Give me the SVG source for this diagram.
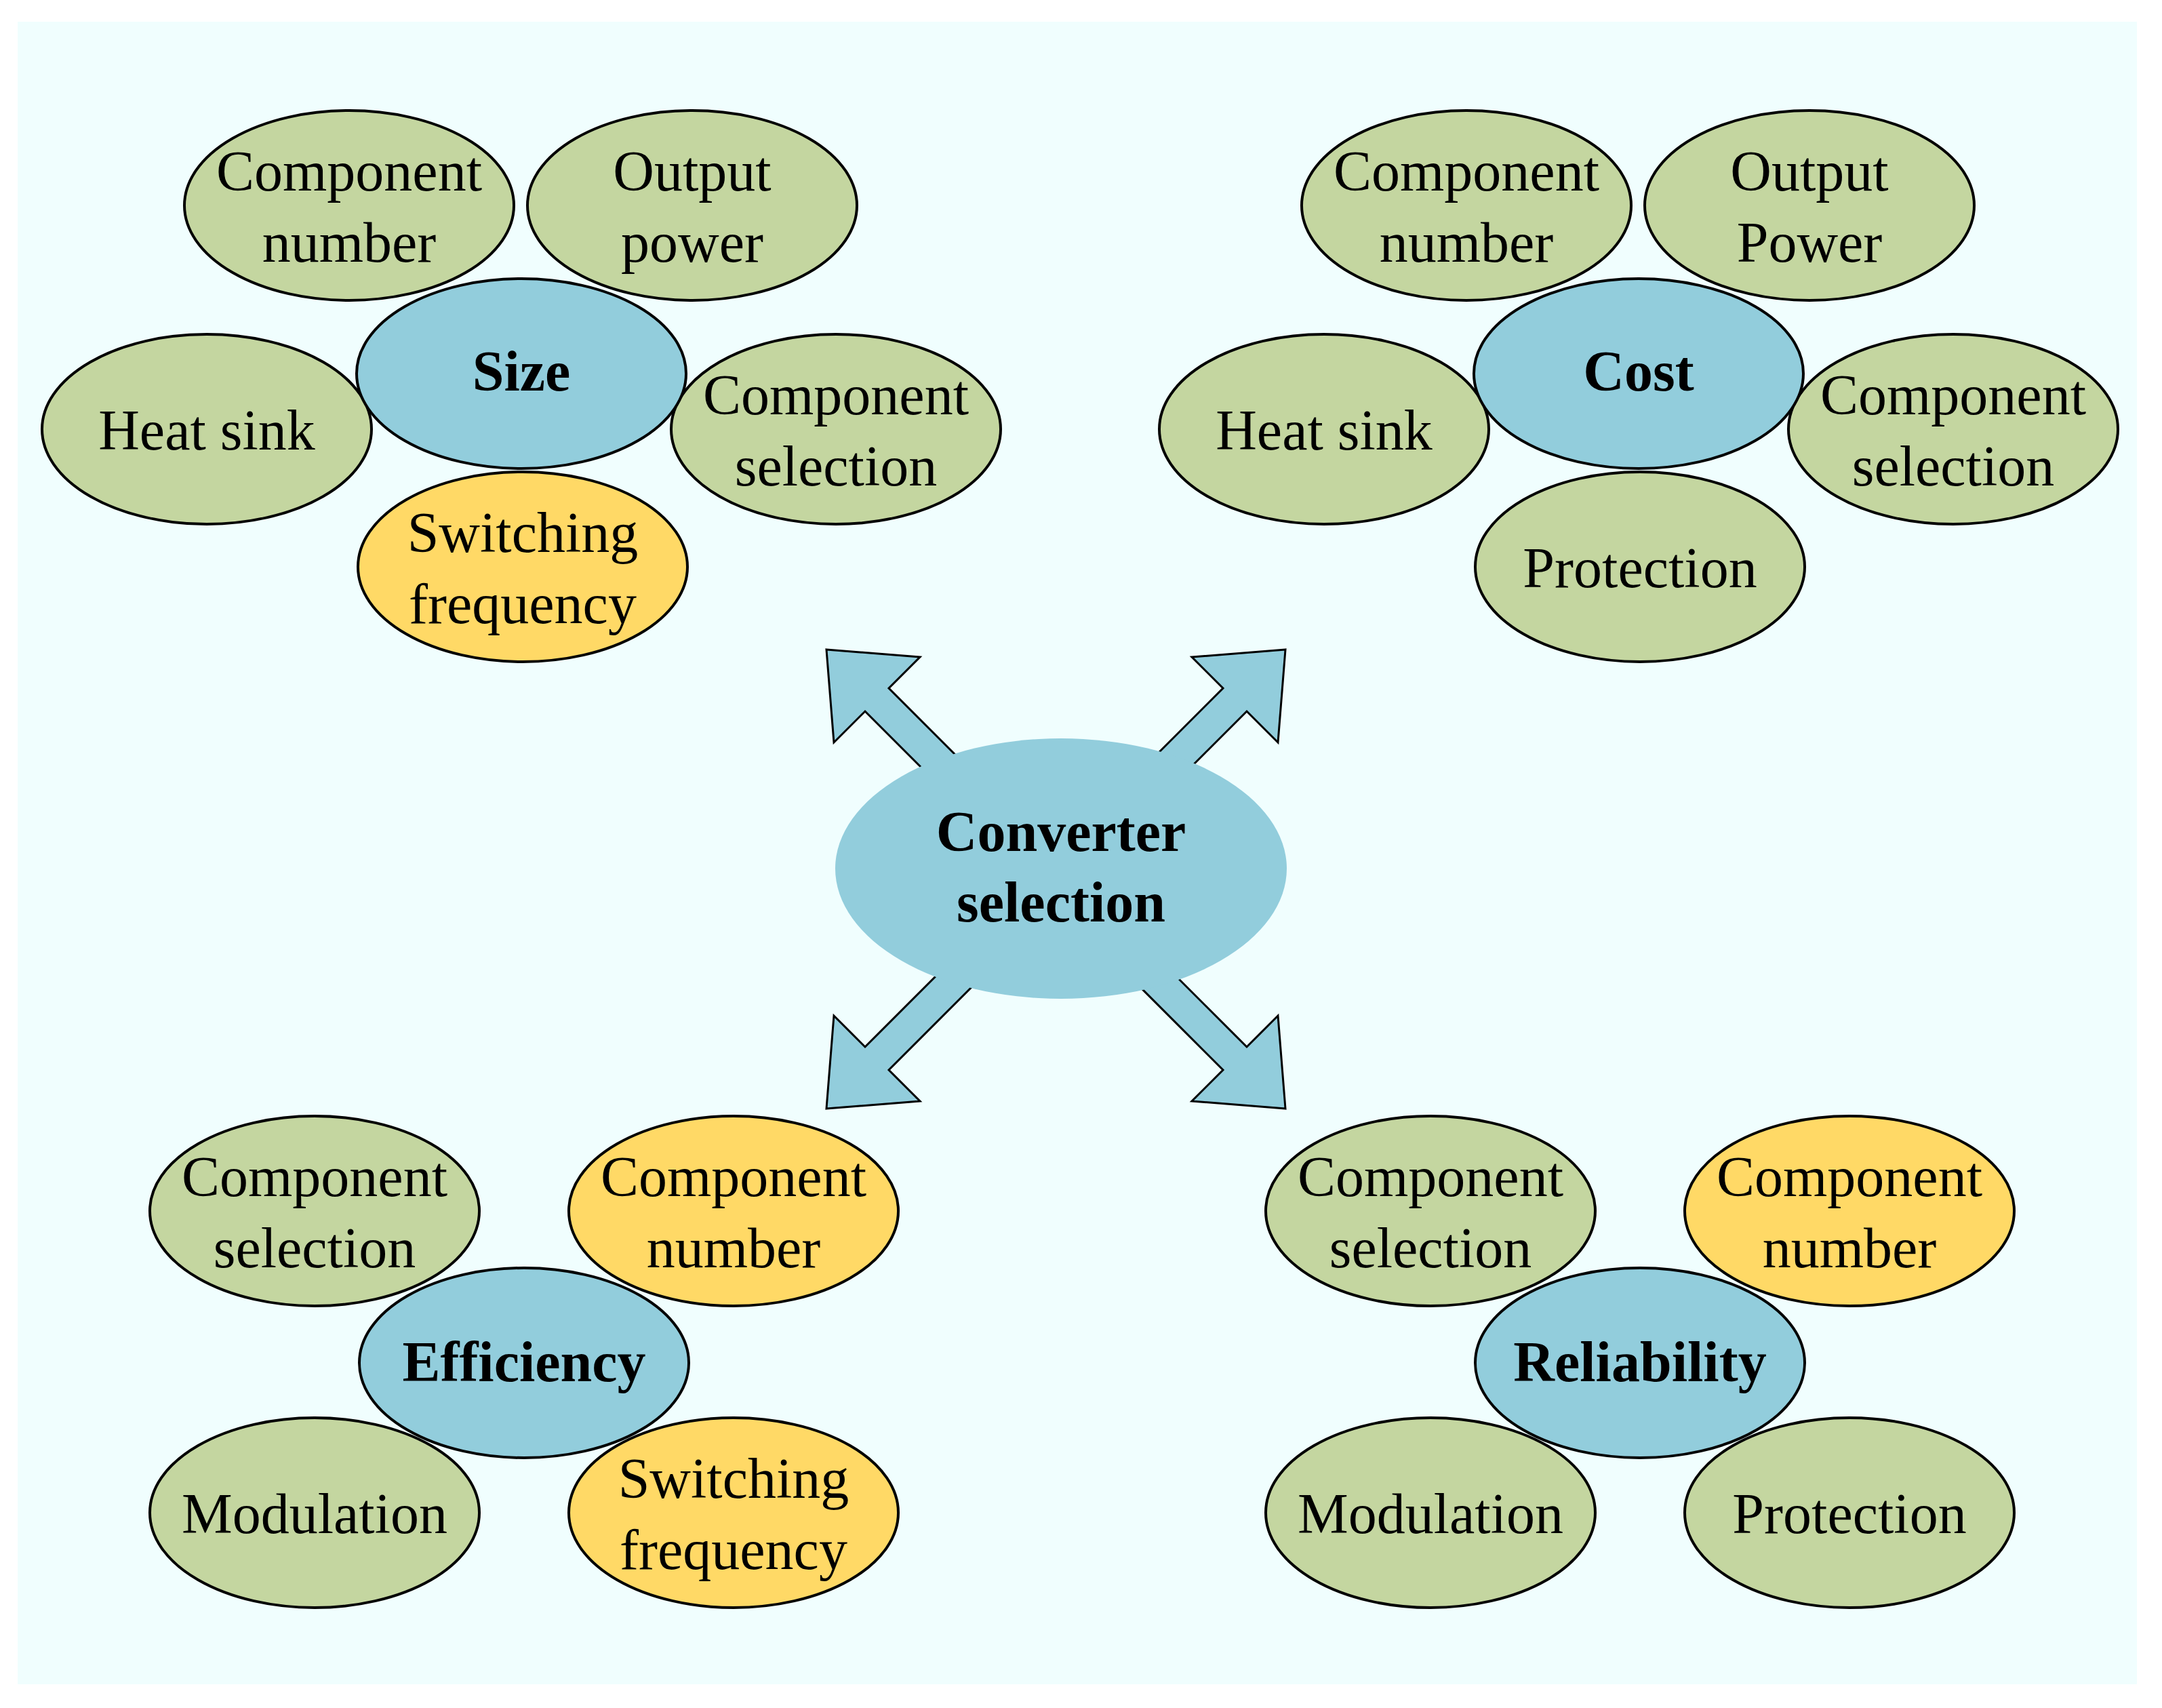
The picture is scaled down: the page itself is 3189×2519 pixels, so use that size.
<svg xmlns="http://www.w3.org/2000/svg" width="3189" height="2519" viewBox="0 0 3189 2519">
<style>
.g{fill:#C4D6A0;stroke:#000;stroke-width:4}
.y{fill:#FFD966;stroke:#000;stroke-width:4}
.b{fill:#92CDDC;stroke:#000;stroke-width:4}
text{font-family:"Liberation Serif",serif;font-size:84px;text-anchor:middle;fill:#000}
.t{font-weight:bold}
.ar{fill:#92CDDC;stroke:#000;stroke-width:3;stroke-linejoin:miter}
</style>
<rect width="3189" height="2519" fill="#fff"/>
<rect x="26" y="32" width="3126" height="2452" fill="#F0FEFE"/>
<g id="connectors">
<polygon id="a1" class="ar" points="1219,958 1357,969 1311,1015 1561,1265 1526,1299 1276,1049 1230,1095"/>
<polygon id="a2" class="ar" transform="matrix(-1 0 0 1 3115 0)" points="1219,958 1357,969 1311,1015 1561,1265 1526,1299 1276,1049 1230,1095"/>
<polygon id="a3" class="ar" transform="matrix(1 0 0 -1 0 2593)" points="1219,958 1357,969 1311,1015 1561,1265 1526,1299 1276,1049 1230,1095"/>
<polygon id="a4" class="ar" transform="matrix(-1 0 0 -1 3115 2593)" points="1219,958 1357,969 1311,1015 1561,1265 1526,1299 1276,1049 1230,1095"/>
</g>
<g id="center"><ellipse cx="1565" cy="1281" rx="333" ry="192" fill="#92CDDC"/><text class="t" x="1565" y="1255">Converter</text><text class="t" x="1565" y="1359">selection</text></g>

<g id="size-cluster">
<g id="s1"><ellipse class="g" cx="515" cy="303" rx="243" ry="140"/><text x="515" y="281">Component</text><text x="515" y="386">number</text></g>
<g id="s2"><ellipse class="g" cx="1021" cy="303" rx="243" ry="140"/><text x="1021" y="281">Output</text><text x="1021" y="386">power</text></g>
<g id="s3"><ellipse class="g" cx="305" cy="633" rx="243" ry="140"/><text x="305" y="663">Heat sink</text></g>
<g id="s4"><ellipse class="g" cx="1233" cy="633" rx="243" ry="140"/><text x="1233" y="611">Component</text><text x="1233" y="716">selection</text></g>
<g id="s5"><ellipse class="y" cx="771" cy="836" rx="243" ry="140"/><text x="771" y="814">Switching</text><text x="771" y="919">frequency</text></g>
<g id="size"><ellipse class="b" cx="769" cy="551" rx="243" ry="140"/><text class="t" x="769" y="576">Size</text></g>
</g>

<g id="cost-cluster">
<g id="c1"><ellipse class="g" cx="2163" cy="303" rx="243" ry="140"/><text x="2163" y="281">Component</text><text x="2163" y="386">number</text></g>
<g id="c2"><ellipse class="g" cx="2669" cy="303" rx="243" ry="140"/><text x="2669" y="281">Output</text><text x="2669" y="386">Power</text></g>
<g id="c3"><ellipse class="g" cx="1953" cy="633" rx="243" ry="140"/><text x="1953" y="663">Heat sink</text></g>
<g id="c4"><ellipse class="g" cx="2881" cy="633" rx="243" ry="140"/><text x="2881" y="611">Component</text><text x="2881" y="716">selection</text></g>
<g id="c5"><ellipse class="g" cx="2419" cy="836" rx="243" ry="140"/><text x="2419" y="866">Protection</text></g>
<g id="cost"><ellipse class="b" cx="2417" cy="551" rx="243" ry="140"/><text class="t" x="2417" y="576">Cost</text></g>
</g>

<g id="eff-cluster">
<g id="e1"><ellipse class="g" cx="464" cy="1786" rx="243" ry="140"/><text x="464" y="1764">Component</text><text x="464" y="1869">selection</text></g>
<g id="e2"><ellipse class="y" cx="1082" cy="1786" rx="243" ry="140"/><text x="1082" y="1764">Component</text><text x="1082" y="1869">number</text></g>
<g id="e3"><ellipse class="g" cx="464" cy="2231" rx="243" ry="140"/><text x="464" y="2261">Modulation</text></g>
<g id="e4"><ellipse class="y" cx="1082" cy="2231" rx="243" ry="140"/><text x="1082" y="2209">Switching</text><text x="1082" y="2314">frequency</text></g>
<g id="eff"><ellipse class="b" cx="773" cy="2010" rx="243" ry="140"/><text class="t" x="773" y="2037">Efficiency</text></g>
</g>

<g id="rel-cluster">
<g id="r1"><ellipse class="g" cx="2110" cy="1786" rx="243" ry="140"/><text x="2110" y="1764">Component</text><text x="2110" y="1869">selection</text></g>
<g id="r2"><ellipse class="y" cx="2728" cy="1786" rx="243" ry="140"/><text x="2728" y="1764">Component</text><text x="2728" y="1869">number</text></g>
<g id="r3"><ellipse class="g" cx="2110" cy="2231" rx="243" ry="140"/><text x="2110" y="2261">Modulation</text></g>
<g id="r4"><ellipse class="g" cx="2728" cy="2231" rx="243" ry="140"/><text x="2728" y="2261">Protection</text></g>
<g id="rel"><ellipse class="b" cx="2419" cy="2010" rx="243" ry="140"/><text class="t" x="2419" y="2037">Reliability</text></g>
</g>
</svg>
